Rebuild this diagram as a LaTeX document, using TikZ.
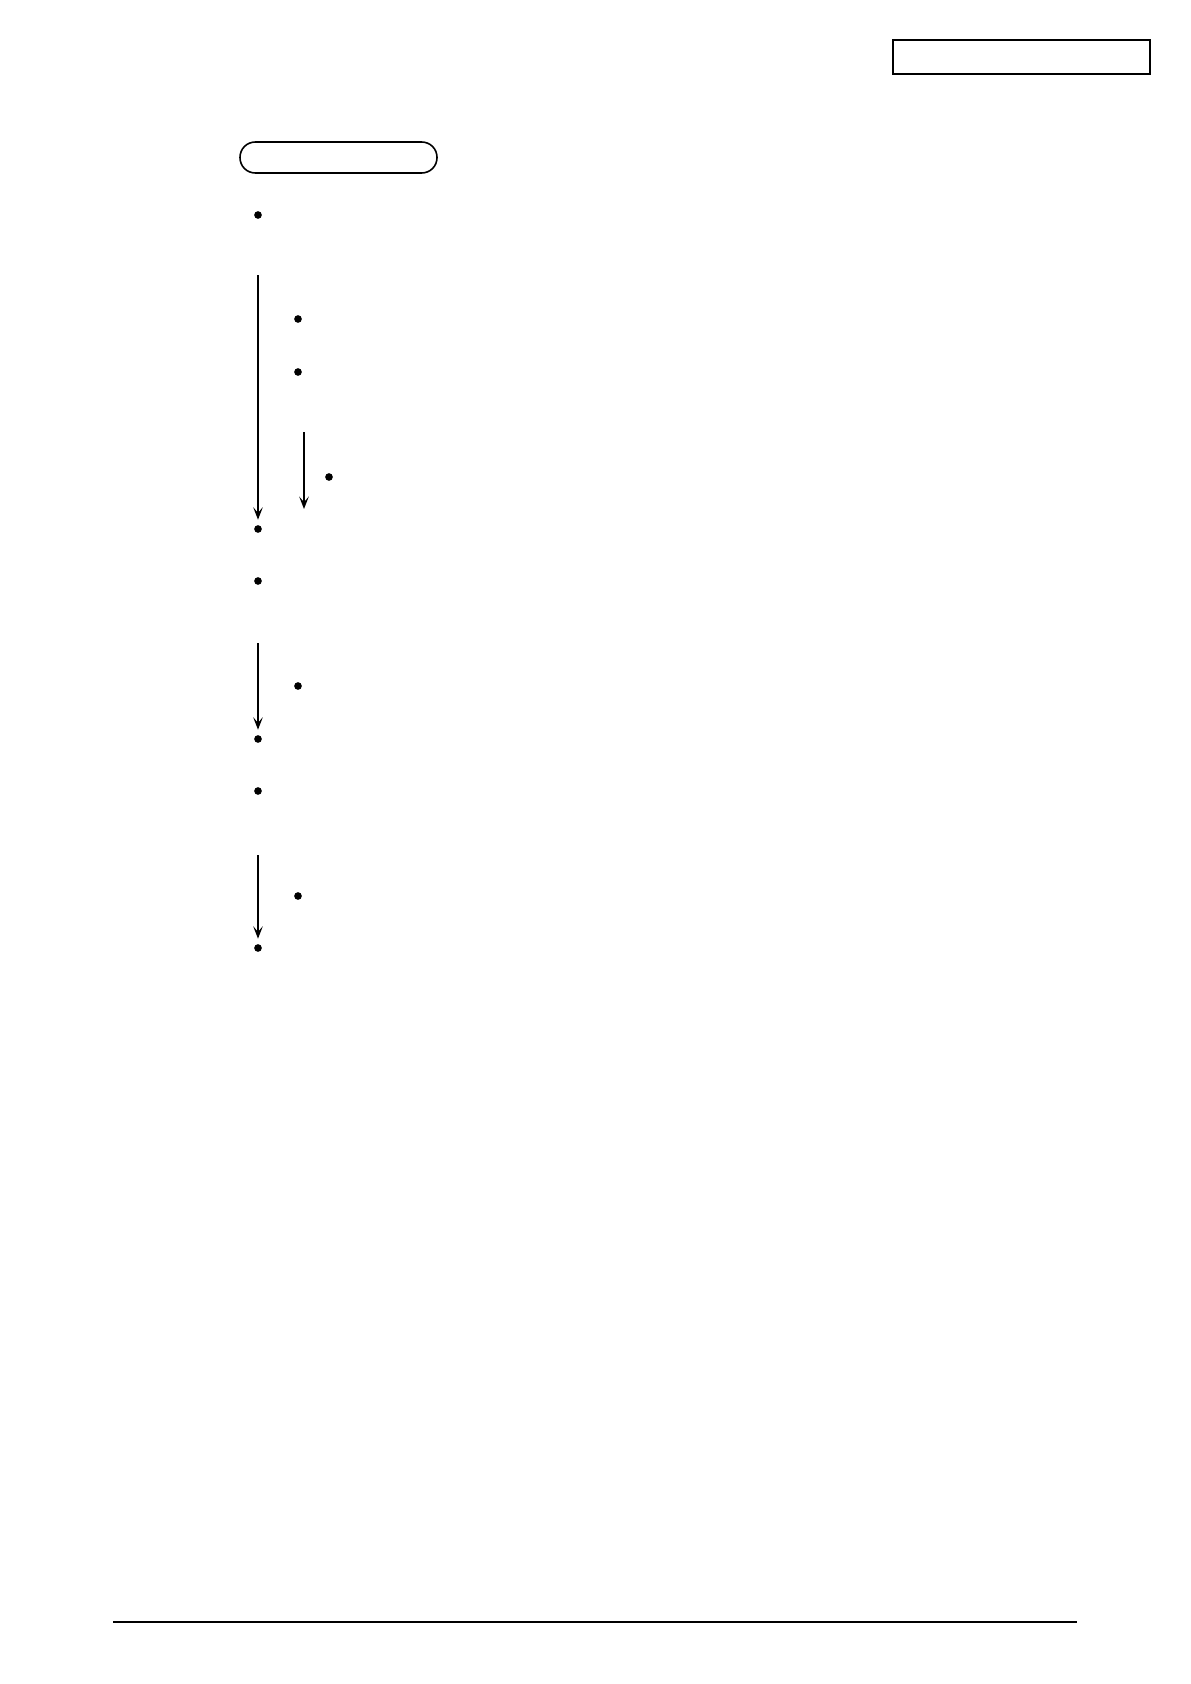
\documentclass[tikz,border=0pt]{standalone}
\usetikzlibrary{arrows.meta}

\tikzset{
	dot/.style={circle, fill, inner sep=0pt, minimum size=1.35mm},
	flow/.style={arrows={-Stealth[length=2.2mm, width=1.7mm, inset=1mm]}, line width=0.7pt},
}

\begin{document}
\begin{tikzpicture}[x=0.17647mm, y=-0.17647mm]
	\useasboundingbox (0, 0) rectangle (1190, 1684);
	\coordinate (TL) at (893, 40);
	\coordinate (TR) at (1150, 74);
	\coordinate (HL) at (240, 142);
	\coordinate (HR) at (437, 173);
	\coordinate (FL) at (113, 1622);
	\coordinate (FR) at (1077, 1622);

	\node [dot] (b1) at (258, 215) {};
	\node [dot] (b2) at (298, 319) {};
	\node [dot] (b3) at (298, 372) {};
	\node [dot] (b4) at (329, 477) {};
	\node [dot] (b5) at (258, 529) {};
	\node [dot] (b6) at (258, 581) {};
	\node [dot] (b7) at (298, 686) {};
	\node [dot] (b8) at (258, 739) {};
	\node [dot] (b9) at (258, 791) {};
	\node [dot] (b10) at (298, 896) {};
	\node [dot] (b11) at (258, 948) {};

	\coordinate (A1) at (258, 275);
	\coordinate (A2) at (304, 432);
	\coordinate (A3) at (304, 509);
	\coordinate (A4) at (258, 643);
	\coordinate (A5) at (258, 855);

	\draw [line width=1pt] (TL) rectangle (TR);
	\draw [line width=0.8pt, rounded corners=2.7mm] (HL) rectangle (HR);
	\draw [line width=0.8pt] (FL) -- (FR);

	\draw [flow, shorten >=0.9mm] (A1) -- (b5);
	\draw [flow] (A2) -- (A3);
	\draw [flow, shorten >=0.9mm] (A4) -- (b8);
	\draw [flow, shorten >=0.9mm] (A5) -- (b11);
\end{tikzpicture}
\end{document}
